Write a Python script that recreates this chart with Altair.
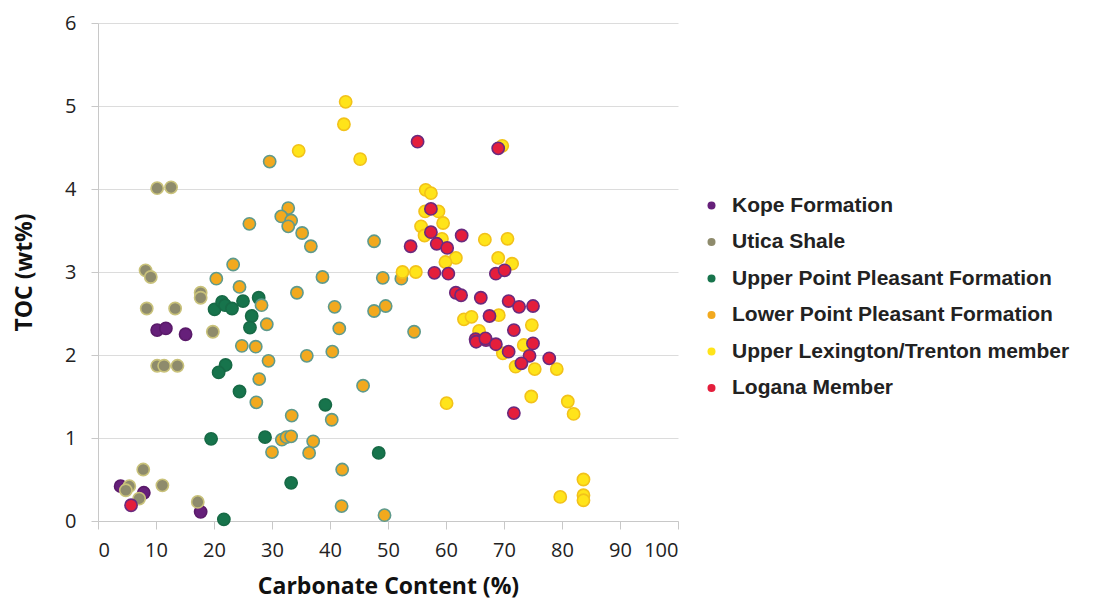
import altair as alt
import pandas as pd

series = ["Kope Formation", "Utica Shale", "Upper Point Pleasant Formation",
          "Lower Point Pleasant Formation", "Upper Lexington/Trenton member", "Logana Member"]
fills = ["#66207a", "#8e8b6c", "#17744c", "#f2a91e", "#ffe41a", "#e41e3c"]
strokes = ["#5a1a6a", "#c9c27a", "#176a46", "#5f9a8c", "#f2c21a", "#6a2a7e"]

kope_x = [3.9, 7.9, 17.7, 10.2, 11.7, 15.1]
kope_y = [0.42, 0.34, 0.11, 2.30, 2.32, 2.25]

utica_x = [10.2, 12.6, 8.2, 9.1, 8.4, 13.3, 17.7, 17.7, 19.8, 10.2, 11.4, 13.7, 7.8, 5.4, 4.8, 7.1, 11.1, 17.2]
utica_y = [4.01, 4.02, 3.02, 2.94, 2.56, 2.56, 2.75, 2.69, 2.28, 1.87, 1.87, 1.87, 0.62, 0.42, 0.37, 0.27, 0.43, 0.23]

upp_x = [20.1, 21.4, 21.9, 23.1, 25.0, 27.7, 26.5, 26.2, 22.0, 20.8, 24.4, 19.5, 28.8, 33.3, 21.7, 39.2, 48.4]
upp_y = [2.55, 2.64, 2.60, 2.56, 2.65, 2.69, 2.47, 2.33, 1.88, 1.79, 1.56, 0.99, 1.01, 0.46, 0.02, 1.40, 0.82]

lpp_x = [29.6, 32.8, 31.6, 33.3, 32.8, 26.1, 35.2, 36.7, 47.6, 23.3, 20.4, 24.4, 38.7, 49.1, 52.3,
         34.3, 28.2, 40.8, 47.6, 49.6, 29.1, 41.6, 54.5, 24.8, 27.2, 29.4, 36.0, 40.4, 27.8, 27.3,
         45.7, 33.4, 40.3, 30.0, 31.7, 32.5, 33.3, 37.1, 36.4, 42.1, 42.0, 49.4]
lpp_y = [4.33, 3.77, 3.67, 3.62, 3.55, 3.58, 3.47, 3.31, 3.37, 3.09, 2.92, 2.82, 2.94, 2.93, 2.92,
         2.75, 2.60, 2.58, 2.53, 2.59, 2.37, 2.32, 2.28, 2.11, 2.10, 1.93, 1.99, 2.04, 1.71, 1.43,
         1.63, 1.27, 1.22, 0.83, 0.98, 1.01, 1.02, 0.96, 0.82, 0.62, 0.18, 0.07]

ult_x = [42.7, 42.4, 34.6, 45.2, 69.7, 56.5, 57.4, 56.4, 58.7, 59.5, 55.7, 56.3, 59.3, 66.7, 70.6,
         61.7, 69.0, 59.9, 71.4, 52.5, 54.8, 69.1, 63.1, 64.4, 74.8, 65.7, 73.4, 69.8, 72.0, 75.3,
         79.1, 60.1, 74.7, 81.0, 82.0, 79.7, 83.7, 83.7, 83.7]
ult_y = [5.05, 4.78, 4.46, 4.36, 4.52, 3.99, 3.95, 3.73, 3.73, 3.59, 3.55, 3.44, 3.40, 3.39, 3.40,
         3.17, 3.17, 3.12, 3.10, 3.00, 3.00, 2.48, 2.43, 2.46, 2.36, 2.29, 2.12, 2.02, 1.86, 1.83,
         1.83, 1.42, 1.50, 1.44, 1.29, 0.29, 0.50, 0.31, 0.25]

log_x = [55.1, 69.0, 57.4, 57.4, 62.7, 53.9, 58.4, 60.2, 58.0, 60.4, 68.6, 70.1, 61.7, 62.6, 66.0,
         70.8, 72.6, 75.0, 67.5, 71.7, 65.1, 65.2, 66.9, 66.8, 68.6, 75.0, 70.8, 74.4, 73.0, 77.8,
         71.7, 5.7]
log_y = [4.57, 4.49, 3.76, 3.48, 3.44, 3.31, 3.34, 3.29, 2.99, 2.98, 2.98, 3.02, 2.75, 2.72, 2.69,
         2.65, 2.58, 2.59, 2.47, 2.30, 2.19, 2.16, 2.18, 2.20, 2.13, 2.14, 2.04, 1.99, 1.90, 1.96,
         1.30, 0.19]

all_x = [kope_x, utica_x, upp_x, lpp_x, ult_x, log_x]
all_y = [kope_y, utica_y, upp_y, lpp_y, ult_y, log_y]

rows = []
for i, (name, xs, ys) in enumerate(zip(series, all_x, all_y)):
    for x, y in zip(xs, ys):
        rows.append({"series": name, "carb": x, "toc": y, "z": i})
df = pd.DataFrame(rows)

chart = alt.Chart(df).mark_point(filled=True, shape="circle", size=150, strokeWidth=1.6, opacity=1).encode(
    x=alt.X("carb:Q", title="Carbonate Content (%)",
            scale=alt.Scale(domain=[0, 100], nice=False),
            axis=alt.Axis(values=list(range(0, 101, 10)), grid=False, tickSize=8,
                          labelFontSize=20, titleFontSize=23, titleFontWeight="bold",
                          labelFont="Open Sans", titleFont="Open Sans",
                          labelColor="#222", titleColor="#111", titlePadding=15, labelPadding=11,
                          domainColor="#c8c8c8", tickColor="#c8c8c8")),
    y=alt.Y("toc:Q", title="TOC (wt%)",
            scale=alt.Scale(domain=[0, 6], nice=False),
            axis=alt.Axis(values=list(range(0, 7)), grid=True, gridColor="#dcdcdc", tickSize=7,
                          labelFontSize=20, titleFontSize=23, titleFontWeight="bold",
                          labelFont="Open Sans", titleFont="Open Sans",
                          labelColor="#222", titleColor="#111", titlePadding=28, labelPadding=15,
                          domainColor="#c8c8c8", tickColor="#c8c8c8")),
    fill=alt.Fill("series:N", scale=alt.Scale(domain=series, range=fills),
                  legend=alt.Legend(title=None, orient="none", legendX=603, legendY=172,
                                    symbolType="circle", symbolSize=64, symbolStrokeWidth=0,
                                    labelFontSize=21, labelFont="Liberation Sans",
                                    labelFontWeight="bold", labelColor="#222", labelLimit=0,
                                    rowPadding=14.5, labelOffset=10)),
    stroke=alt.Stroke("series:N", scale=alt.Scale(domain=series, range=strokes), legend=None),
    order=alt.Order("z:Q"),
).properties(
    width=580, height=498,
    padding={"left": 5, "top": 5, "right": 0, "bottom": 6},
).configure_view(stroke=None)

chart.save("out.html", embed_options={"renderer": "svg", "actions": False})
